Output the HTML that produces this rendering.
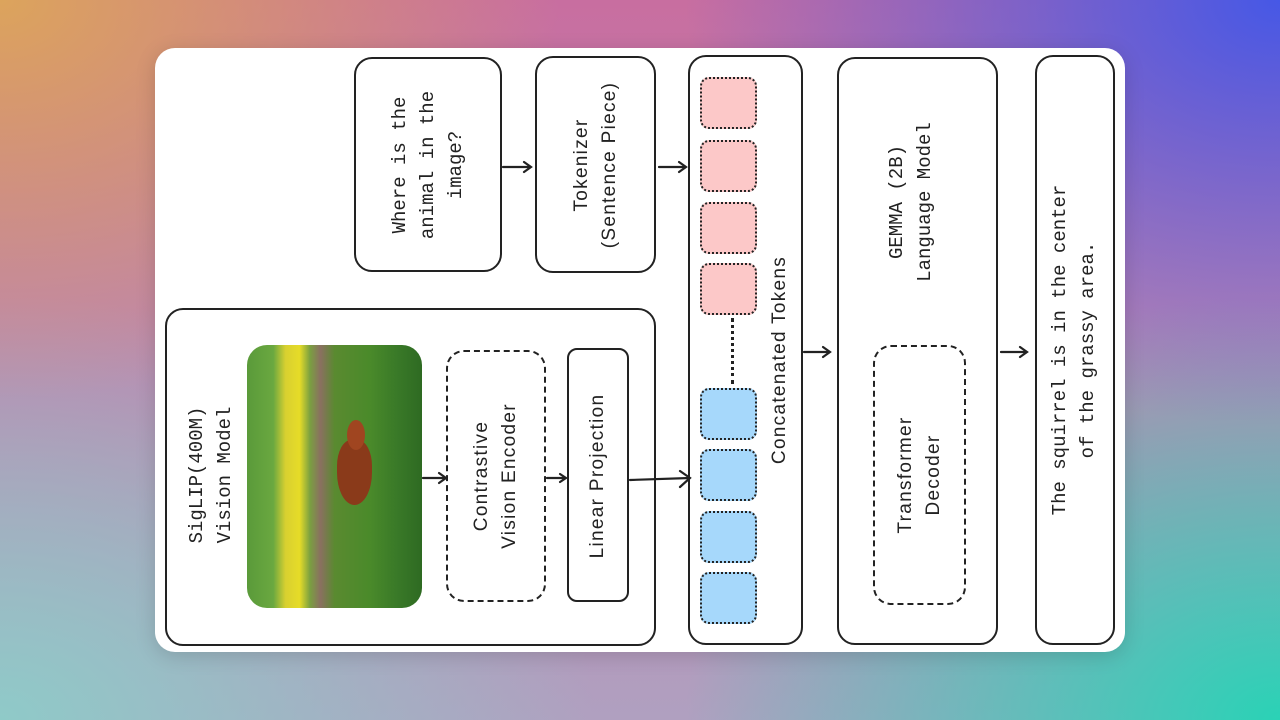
<!DOCTYPE html>
<html><head><meta charset="utf-8"><style>
html,body{margin:0;padding:0;width:1280px;height:720px;overflow:hidden}
body{position:relative;background:
radial-gradient(ellipse 700px 500px at 0% 0%, #dca45c 0%, rgba(220,164,92,0) 80%),
radial-gradient(ellipse 700px 500px at 100% 0%, #4658e6 0%, rgba(70,88,230,0) 85%),
radial-gradient(ellipse 700px 500px at 100% 100%, #2ad2b6 0%, rgba(42,210,182,0) 85%),
radial-gradient(ellipse 700px 500px at 0% 100%, #8fcac8 0%, rgba(143,202,200,0) 85%),
linear-gradient(180deg,#c86ea0 0%,#b0a0c0 100%);
font-family:"Liberation Mono",monospace;color:#222}
.card{position:absolute;left:155px;top:48px;width:970px;height:604px;background:#fff;border-radius:20px;box-shadow:0 4px 20px rgba(0,0,0,.15)}
.b{position:absolute;border:2px solid #222;border-radius:18px;box-sizing:border-box}
.d{position:absolute;border:2px dashed #222;border-radius:18px;box-sizing:border-box}
.tk{position:absolute;left:700px;width:57px;height:52px;border:2.5px dotted #222;border-radius:9px;box-sizing:border-box}
.p{background:#fcc8c8}.bl{background:#a6d8fb}
.t{position:absolute;transform:translate(-50%,-50%) rotate(-90deg);white-space:nowrap;text-align:center;font-size:19px;line-height:28px}
.s{font-family:"Liberation Sans",sans-serif;font-size:19px;letter-spacing:1.3px}
svg{position:absolute;left:0;top:0}
</style></head><body>
<div class="card"></div>
<div class="b" style="left:354px;top:57px;width:148px;height:215px"></div>
<div class="t" style="left:428px;top:165px">Where is the<br>animal in the<br>image?</div>
<div class="b" style="left:535px;top:56px;width:121px;height:217px"></div>
<div class="t s" style="left:596px;top:165px">Tokenizer<br>(Sentence Piece)</div>
<div class="b" style="left:688px;top:55px;width:115px;height:590px"></div>
<div class="tk p" style="top:77px"></div><div class="tk p" style="top:140px"></div><div class="tk p" style="top:202px"></div><div class="tk p" style="top:263px"></div>
<div class="tk bl" style="top:388px"></div><div class="tk bl" style="top:449px"></div><div class="tk bl" style="top:511px"></div><div class="tk bl" style="top:572px"></div>
<div style="position:absolute;left:731px;top:318px;height:66px;border-left:3px dotted #222"></div>
<div class="t s" style="left:780px;top:360px">Concatenated Tokens</div>
<div class="b" style="left:837px;top:57px;width:161px;height:588px"></div>
<div class="t" style="left:911px;top:202px">GEMMA (2B)<br>Language Model</div>
<div class="d" style="left:873px;top:345px;width:93px;height:260px"></div>
<div class="t s" style="left:920px;top:475px">Transformer<br>Decoder</div>
<div class="b" style="left:1035px;top:55px;width:80px;height:590px"></div>
<div class="t" style="left:1074px;top:350px">The squirrel is in the center<br>of the grassy area.</div>
<div class="b" style="left:165px;top:308px;width:491px;height:338px"></div>
<div class="t" style="left:211px;top:475px">SigLIP(400M)<br>Vision Model</div>
<div style="position:absolute;left:247px;top:345px;width:175px;height:263px;border-radius:20px;overflow:hidden;background:linear-gradient(90deg,#5a9a3a 0%,#6aa840 15%,#d8d030 22%,#e6dc28 30%,#7aa040 36%,#8a7060 42%,#5a8a30 50%,#4a8a2a 70%,#3a7a28 85%,#2e6a22 100%)">
<div style="position:absolute;left:90px;top:95px;width:35px;height:65px;background:#8a3a1a;border-radius:40% 40% 50% 50%"></div>
<div style="position:absolute;left:100px;top:75px;width:18px;height:30px;background:#a04520;border-radius:50%"></div>
</div>
<div class="d" style="left:446px;top:350px;width:100px;height:252px"></div>
<div class="t s" style="left:496px;top:476px">Contrastive<br>Vision Encoder</div>
<div class="b" style="left:567px;top:348px;width:62px;height:254px;border-radius:10px"></div>
<div class="t s" style="left:598px;top:476px">Linear Projection</div>
<svg width="1280" height="720" fill="none" stroke="#222" stroke-width="2.2" stroke-linecap="round">
<path d="M503 167H531M524 162L531 167L524 172"/>
<path d="M659 167H686M679 162L686 167L679 172"/>
<path d="M804 352H830M823 347L830 352L823 357"/>
<path d="M1001 352H1027M1020 347L1027 352L1020 357"/>
<path d="M423 478H446M439 473L446 478L439 483"/>
<path d="M547 478H566M560 474L566 478L560 482"/>
<path d="M630 480L690 478M680 471L690 478L680 487"/>
</svg>
</body></html>
